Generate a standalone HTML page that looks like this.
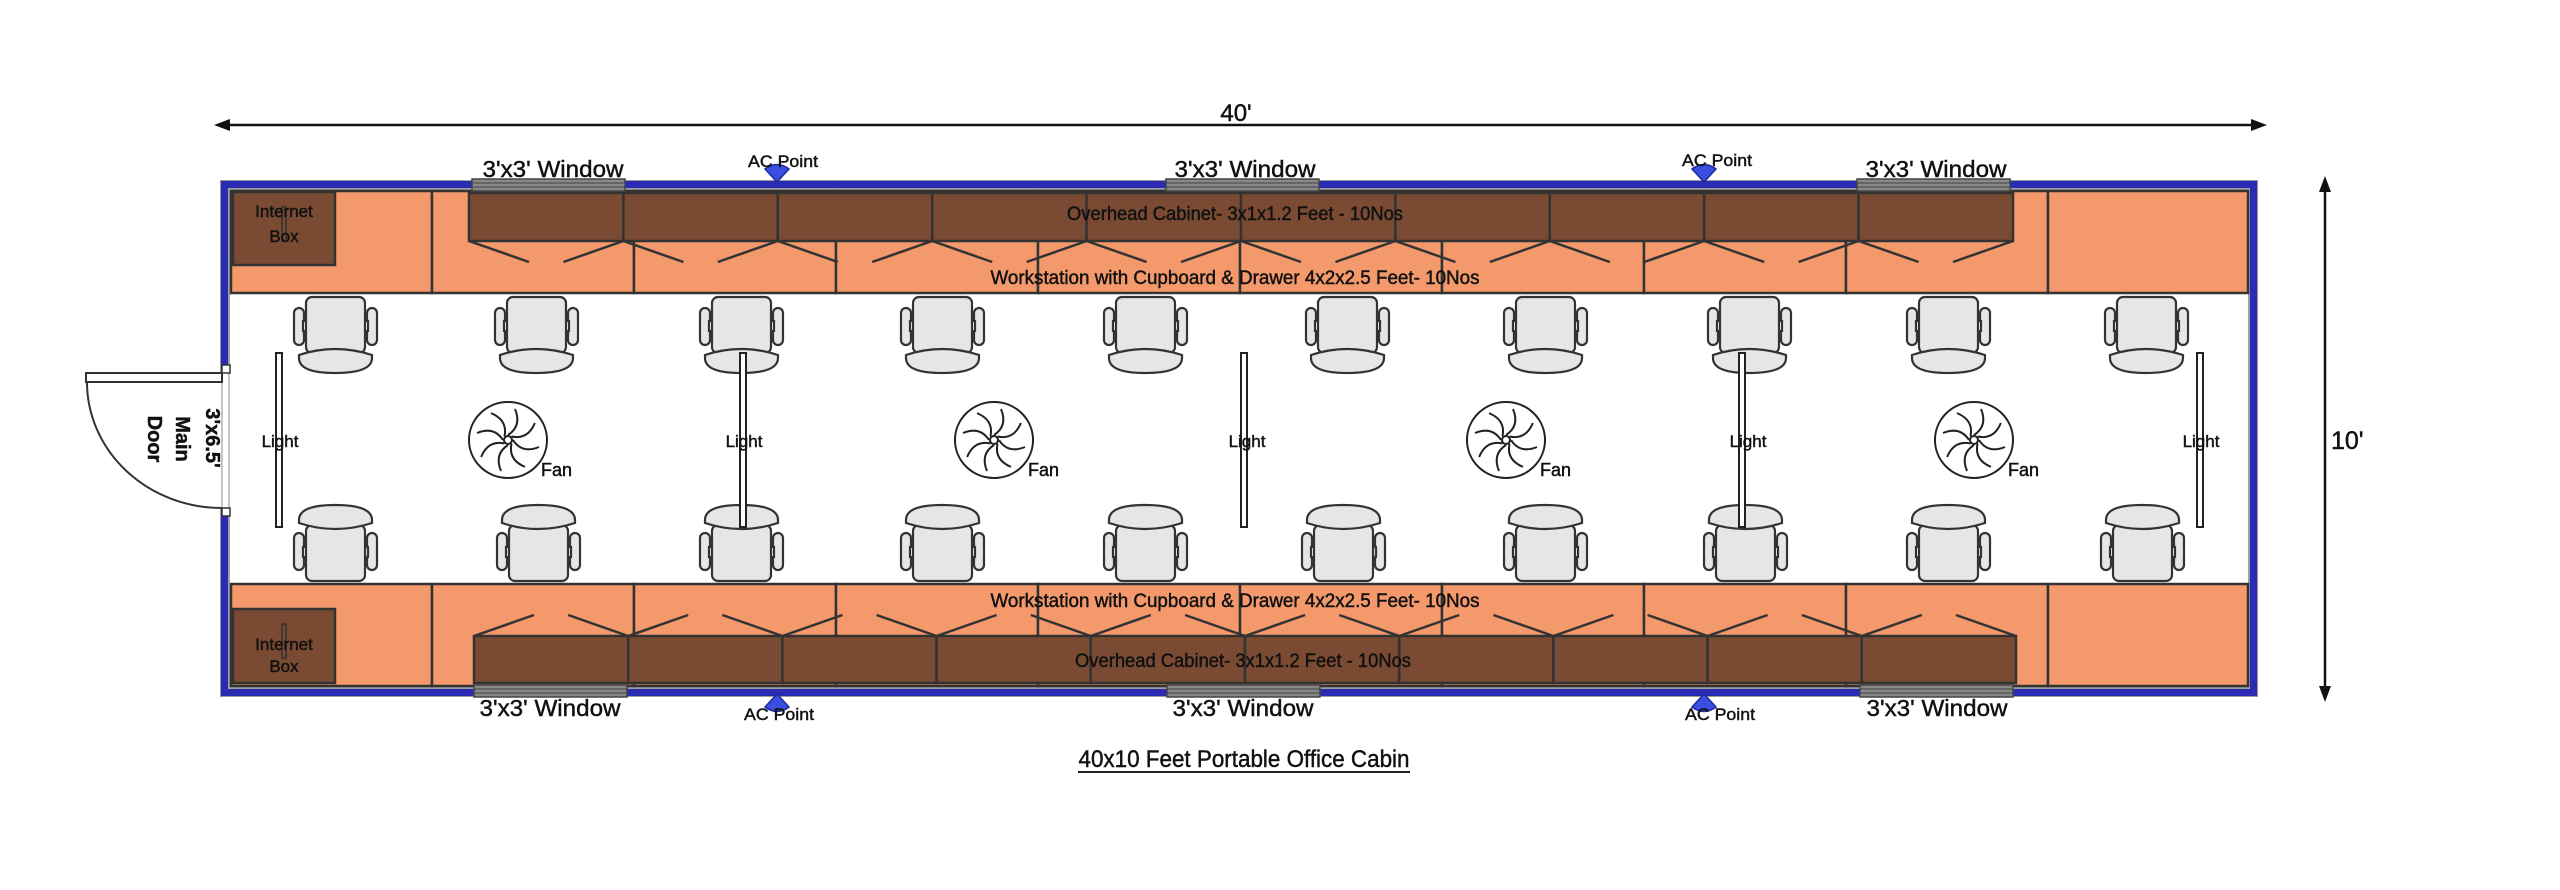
<!DOCTYPE html>
<html><head><meta charset="utf-8"><style>
html,body{margin:0;padding:0;background:#fff;}
svg{display:block;}
text{font-family:"Liberation Sans Narrow","Liberation Sans",sans-serif;fill:#111;stroke:#111;stroke-width:0.45;}
</style></head><body>
<svg width="2560" height="890" viewBox="0 0 2560 890" xmlns="http://www.w3.org/2000/svg">
<defs>
<g id="chair" stroke="#333" stroke-width="2.2" fill="#e6e6e6">
  <rect x="0" y="11" width="10" height="37" rx="5"/>
  <rect x="73" y="11" width="10" height="37" rx="5"/>
  <rect x="9" y="24" width="4" height="10" fill="#fff"/>
  <rect x="70" y="24" width="4" height="10" fill="#fff"/>
  <rect x="12" y="0" width="59" height="56" rx="6"/>
  <path d="M5,58 Q41,46 78,58 L78,61 Q78,76 41,76 Q5,76 5,61 Z"/>
</g>
<g id="fan" stroke="#222" stroke-width="2" fill="none">
  <ellipse cx="0" cy="0" rx="39" ry="38" fill="#fff"/>
  <circle cx="0" cy="0" r="4"/>
  <path id="bl" d="M0,-5 Q14,-14 7,-31"/>
  <use href="#bl" transform="rotate(45)"/>
  <use href="#bl" transform="rotate(90)"/>
  <use href="#bl" transform="rotate(135)"/>
  <use href="#bl" transform="rotate(180)"/>
  <use href="#bl" transform="rotate(225)"/>
  <use href="#bl" transform="rotate(270)"/>
  <use href="#bl" transform="rotate(315)"/>
</g>
<path id="ac" d="M-12,-5 Q0,-14 12,-5 L0,8 Z" fill="#3a4fe0" stroke="#1c2a9a" stroke-width="1.5"/>
<g id="win"><rect x="0" y="-1" width="153" height="12" fill="#888" stroke="#444" stroke-width="1.5"/><line x1="0" y1="3" x2="153" y2="3" stroke="#444"/><line x1="0" y1="7" x2="153" y2="7" stroke="#444"/></g>
</defs>

<line x1="222" y1="125" x2="2258" y2="125" stroke="#111" stroke-width="2.5"/>
<polygon points="214,125 230,119 230,131" fill="#111"/>
<polygon points="2267,125 2251,119 2251,131" fill="#111"/>
<text x="1236" y="121" font-size="24" text-anchor="middle">40'</text>

<line x1="2325" y1="184" x2="2325" y2="694" stroke="#111" stroke-width="2.5"/>
<polygon points="2325,176 2319,192 2331,192" fill="#111"/>
<polygon points="2325,702 2319,686 2331,686" fill="#111"/>
<text x="2331" y="449" font-size="25">10'</text>

<rect x="220" y="180" width="2038" height="517" fill="#9a9a9a"/>
<rect x="221" y="181" width="2036" height="515" fill="#2b2bb3"/>
<rect x="228" y="188" width="2022" height="501" fill="#a0a0a0"/>
<rect x="230" y="190" width="2018" height="497" fill="#fff"/>

<rect x="219" y="372" width="12" height="136" fill="#fff"/>
<line x1="222" y1="372" x2="222" y2="508" stroke="#888" stroke-width="1"/>
<line x1="229" y1="372" x2="229" y2="508" stroke="#888" stroke-width="1"/>
<rect x="222" y="365" width="8" height="8" fill="#fff" stroke="#333" stroke-width="1.5"/>
<rect x="222" y="508" width="8" height="8" fill="#fff" stroke="#333" stroke-width="1.5"/>
<rect x="86" y="373" width="136" height="9" fill="#fff" stroke="#333" stroke-width="2"/>
<path d="M87,382 A135,126 0 0 0 222,508" fill="none" stroke="#333" stroke-width="2"/>
<g font-weight="bold" font-size="20" text-anchor="middle">
<text transform="translate(206,438) rotate(90)" style="font-family:'Liberation Sans',sans-serif">3'x6.5'</text>
<text transform="translate(176,439) rotate(90)" style="font-family:'Liberation Sans',sans-serif">Main</text>
<text transform="translate(148,439) rotate(90)" style="font-family:'Liberation Sans',sans-serif">Door</text>
</g>

<g stroke="#333" stroke-width="2.5" fill="#f4996b">
<rect x="231" y="191" width="201" height="102"/>
<rect x="432" y="191" width="202" height="102"/>
<rect x="634" y="191" width="202" height="102"/>
<rect x="836" y="191" width="202" height="102"/>
<rect x="1038" y="191" width="202" height="102"/>
<rect x="1240" y="191" width="202" height="102"/>
<rect x="1442" y="191" width="202" height="102"/>
<rect x="1644" y="191" width="202" height="102"/>
<rect x="1846" y="191" width="202" height="102"/>
<rect x="2048" y="191" width="200" height="102"/>
</g>
<g stroke="#333" stroke-width="2.5" fill="#f4996b">
<rect x="231" y="584" width="201" height="102"/>
<rect x="432" y="584" width="202" height="102"/>
<rect x="634" y="584" width="202" height="102"/>
<rect x="836" y="584" width="202" height="102"/>
<rect x="1038" y="584" width="202" height="102"/>
<rect x="1240" y="584" width="202" height="102"/>
<rect x="1442" y="584" width="202" height="102"/>
<rect x="1644" y="584" width="202" height="102"/>
<rect x="1846" y="584" width="202" height="102"/>
<rect x="2048" y="584" width="200" height="102"/>
</g>

<g stroke="#333" stroke-width="2.5" fill="#7a4b32">
<rect x="469" y="193" width="154.4" height="48"/>
<rect x="623.4" y="193" width="154.4" height="48"/>
<rect x="777.8" y="193" width="154.4" height="48"/>
<rect x="932.2" y="193" width="154.4" height="48"/>
<rect x="1086.6" y="193" width="154.4" height="48"/>
<rect x="1241" y="193" width="154.4" height="48"/>
<rect x="1395.4" y="193" width="154.4" height="48"/>
<rect x="1549.8" y="193" width="154.4" height="48"/>
<rect x="1704.2" y="193" width="154.4" height="48"/>
<rect x="1858.6" y="193" width="154.4" height="48"/>
</g>
<g stroke="#333" stroke-width="2.5">
<path d="M469,241 l60,21 M623.4,241 l-60,21 M623.4,241 l60,21 M777.8,241 l-60,21 M777.8,241 l60,21 M932.2,241 l-60,21 M932.2,241 l60,21 M1086.6,241 l-60,21 M1086.6,241 l60,21 M1241,241 l-60,21 M1241,241 l60,21 M1395.4,241 l-60,21 M1395.4,241 l60,21 M1549.8,241 l-60,21 M1549.8,241 l60,21 M1704.2,241 l-60,21 M1704.2,241 l60,21 M1858.6,241 l-60,21 M1858.6,241 l60,21 M2013,241 l-60,21"/>
</g>
<g stroke="#333" stroke-width="2.5" fill="#7a4b32">
<rect x="474" y="636" width="154.2" height="47"/>
<rect x="628.2" y="636" width="154.2" height="47"/>
<rect x="782.4" y="636" width="154.2" height="47"/>
<rect x="936.6" y="636" width="154.2" height="47"/>
<rect x="1090.8" y="636" width="154.2" height="47"/>
<rect x="1245" y="636" width="154.2" height="47"/>
<rect x="1399.2" y="636" width="154.2" height="47"/>
<rect x="1553.4" y="636" width="154.2" height="47"/>
<rect x="1707.6" y="636" width="154.2" height="47"/>
<rect x="1861.8" y="636" width="154.2" height="47"/>
</g>
<g stroke="#333" stroke-width="2.5">
<path d="M474,636 l60,-21 M628.2,636 l-60,-21 M628.2,636 l60,-21 M782.4,636 l-60,-21 M782.4,636 l60,-21 M936.6,636 l-60,-21 M936.6,636 l60,-21 M1090.8,636 l-60,-21 M1090.8,636 l60,-21 M1245,636 l-60,-21 M1245,636 l60,-21 M1399.2,636 l-60,-21 M1399.2,636 l60,-21 M1553.4,636 l-60,-21 M1553.4,636 l60,-21 M1707.6,636 l-60,-21 M1707.6,636 l60,-21 M1861.8,636 l-60,-21 M1861.8,636 l60,-21 M2016,636 l-60,-21"/>
</g>

<rect x="233" y="192" width="102" height="73" fill="#7a4b32" stroke="#333" stroke-width="2.5"/>
<rect x="233" y="609" width="102" height="74" fill="#7a4b32" stroke="#333" stroke-width="2.5"/>
<rect x="282" y="207" width="4" height="34" fill="none" stroke="#333" stroke-width="1.5"/>
<rect x="282" y="624" width="4" height="34" fill="none" stroke="#333" stroke-width="1.5"/>
<g font-size="17" text-anchor="middle">
<text x="284" y="217">Internet</text><text x="284" y="242">Box</text>
<text x="284" y="650">Internet</text><text x="284" y="672">Box</text>
</g>

<g font-size="19" text-anchor="middle">
<text x="1235" y="220" textLength="336" lengthAdjust="spacingAndGlyphs">Overhead Cabinet- 3x1x1.2 Feet - 10Nos</text>
<text x="1235" y="284" textLength="489" lengthAdjust="spacingAndGlyphs">Workstation with Cupboard &amp; Drawer 4x2x2.5 Feet- 10Nos</text>
<text x="1235" y="607" textLength="489" lengthAdjust="spacingAndGlyphs">Workstation with Cupboard &amp; Drawer 4x2x2.5 Feet- 10Nos</text>
<text x="1243" y="667" textLength="336" lengthAdjust="spacingAndGlyphs">Overhead Cabinet- 3x1x1.2 Feet - 10Nos</text>
</g>

<use href="#win" x="472" y="180"/>
<use href="#win" x="1166" y="180"/>
<use href="#win" x="1857" y="180"/>
<use href="#win" x="474" y="686"/>
<use href="#win" x="1167" y="686"/>
<use href="#win" x="1860" y="686"/>
<g font-size="23" text-anchor="middle">
<text x="553" y="177" textLength="141" lengthAdjust="spacingAndGlyphs">3'x3' Window</text>
<text x="1245" y="177" textLength="141" lengthAdjust="spacingAndGlyphs">3'x3' Window</text>
<text x="1936" y="177" textLength="141" lengthAdjust="spacingAndGlyphs">3'x3' Window</text>
<text x="550" y="716" textLength="141" lengthAdjust="spacingAndGlyphs">3'x3' Window</text>
<text x="1243" y="716" textLength="141" lengthAdjust="spacingAndGlyphs">3'x3' Window</text>
<text x="1937" y="716" textLength="141" lengthAdjust="spacingAndGlyphs">3'x3' Window</text>
</g>

<use href="#ac" x="777" y="174"/>
<use href="#ac" x="1704" y="174"/>
<use href="#ac" x="777" y="702" transform="rotate(180 777 702)"/>
<use href="#ac" x="1704" y="702" transform="rotate(180 1704 702)"/>
<g font-size="17" text-anchor="middle">
<text x="783" y="167" textLength="70" lengthAdjust="spacingAndGlyphs">AC Point</text>
<text x="1717" y="166" textLength="70" lengthAdjust="spacingAndGlyphs">AC Point</text>
<text x="779" y="720" textLength="70" lengthAdjust="spacingAndGlyphs">AC Point</text>
<text x="1720" y="720" textLength="70" lengthAdjust="spacingAndGlyphs">AC Point</text>
</g>

<use href="#chair" x="294" y="297"/>
<use href="#chair" x="495" y="297"/>
<use href="#chair" x="700" y="297"/>
<use href="#chair" x="901" y="297"/>
<use href="#chair" x="1104" y="297"/>
<use href="#chair" x="1306" y="297"/>
<use href="#chair" x="1504" y="297"/>
<use href="#chair" x="1708" y="297"/>
<use href="#chair" x="1907" y="297"/>
<use href="#chair" x="2105" y="297"/>
<g transform="translate(0,1086) scale(1,-1)">
<use href="#chair" x="294" y="505"/>
<use href="#chair" x="497" y="505"/>
<use href="#chair" x="700" y="505"/>
<use href="#chair" x="901" y="505"/>
<use href="#chair" x="1104" y="505"/>
<use href="#chair" x="1302" y="505"/>
<use href="#chair" x="1504" y="505"/>
<use href="#chair" x="1704" y="505"/>
<use href="#chair" x="1907" y="505"/>
<use href="#chair" x="2101" y="505"/>
</g>

<g fill="#fff" stroke="#222" stroke-width="2">
<rect x="276" y="353" width="6" height="174"/>
<rect x="740" y="353" width="6" height="174"/>
<rect x="1241" y="353" width="6" height="174"/>
<rect x="1739" y="353" width="6" height="174"/>
<rect x="2197" y="353" width="6" height="174"/>
</g>
<g font-size="17" text-anchor="middle">
<text x="280" y="447">Light</text>
<text x="744" y="447">Light</text>
<text x="1247" y="447">Light</text>
<text x="1748" y="447">Light</text>
<text x="2201" y="447">Light</text>
</g>

<use href="#fan" x="508" y="440"/>
<use href="#fan" x="994" y="440"/>
<use href="#fan" x="1506" y="440"/>
<use href="#fan" x="1974" y="440"/>
<g font-size="18">
<text x="541" y="476">Fan</text>
<text x="1028" y="476">Fan</text>
<text x="1540" y="476">Fan</text>
<text x="2008" y="476">Fan</text>
</g>

<text x="1244" y="767" font-size="24" text-anchor="middle" textLength="331" lengthAdjust="spacingAndGlyphs">40x10 Feet Portable Office Cabin</text>
<line x1="1078" y1="772" x2="1410" y2="772" stroke="#222" stroke-width="2"/>
</svg>
</body></html>
